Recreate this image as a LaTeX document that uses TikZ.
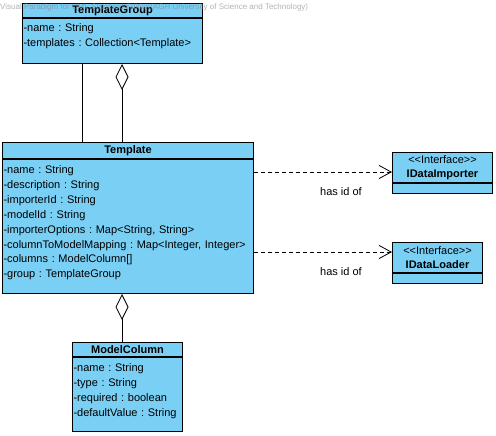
\documentclass[tikz,border=0pt]{standalone}
\usepackage{fontspec}
\setmainfont{Liberation Sans}
\frenchspacing
\definecolor{umlblue}{HTML}{7ACFF5}
\usetikzlibrary{positioning, arrows.meta}

\begin{document}
\begin{tikzpicture}[x=1pt, y=-1pt,
  chead/.style={draw, fill=umlblue, line width=1pt, anchor=north west, inner sep=0pt,
                font=\fontsize{11}{14}\selectfont\bfseries, align=center},
  cbody/.style={draw, fill=umlblue, line width=1pt, anchor=north west,
                inner xsep=1pt, inner ysep=0pt, align=left,
                font=\fontsize{11}{15}\selectfont, text height=13.5pt},
  link/.style={line width=0.8pt},
  aggr/.style={link, {Diamond[open, length=26pt, width=13pt]}-},
  dep/.style={link, dash pattern=on 4pt off 3pt, -{Straight Barb[length=12pt, width=13pt]}},
  lbl/.style={font=\fontsize{11}{13}\selectfont},
  wmark/.style={font=\fontsize{8}{9}\selectfont, text=gray, text opacity=0.6, inner sep=0pt},
]
\useasboundingbox (0,0) rectangle (496,436);

% classes
\node[chead, minimum width=180pt, minimum height=14pt] (tgh) at (22,3) {TemplateGroup};
\node[cbody, minimum width=180pt, text width=178pt, text depth=31.5pt] (tgb) at (tgh.south west)
  {-name : String\\-templates : Collection<Template>};

\node[chead, minimum width=251pt, minimum height=16pt] (tplh) at (2,142) {Template};
\node[cbody, minimum width=251pt, text width=249pt, text depth=120.5pt] (tplb) at (tplh.south west)
  {-name : String\\-description : String\\-importerId : String\\-modelId : String\\
   -importerOptions : Map<String, String>\\-columnToModelMapping : Map<Integer, Integer>\\
   -columns : ModelColumn[]\\-group : TemplateGroup};

\node[chead, minimum width=110pt, minimum height=14pt] (mch) at (72,342) {ModelColumn};
\node[cbody, minimum width=110pt, text width=108pt, text depth=60.5pt] (mcb) at (mch.south west)
  {-name : String\\-type : String\\-required : boolean\\-defaultValue : String};

% interfaces
\node[chead, minimum width=100pt, minimum height=30pt] (imph) at (392,152)
  {{\mdseries <{}<Interface>{}>}\\IDataImporter};
\node[cbody, minimum width=100pt, text width=98pt, text height=0pt, text depth=10pt] (impb) at (imph.south west) {};

\node[chead, minimum width=90pt, minimum height=30pt] (ldrh) at (392,242)
  {{\mdseries <{}<Interface>{}>}\\IDataLoader};
\node[cbody, minimum width=90pt, text width=88pt, text height=0pt, text depth=10pt] (ldrb) at (ldrh.south west) {};

% connectors
\coordinate (asx) at (82,0);
\coordinate (agx) at (122,0);
\coordinate (impin) at (392,172);
\coordinate (ldrin) at (392,252);
\draw[link] (tgb.south -| asx) -- (tplh.north -| asx);
\draw[aggr] (tgb.south -| agx) -- (tplh.north -| agx);
\draw[aggr] (tplb.south -| agx) -- (mch.north -| agx);
\draw[dep] (tplb.east |- impin) -- node[lbl, pos=0.63, yshift=-20pt] (l1) {has id of} (impin);
\draw[dep] (tplb.east |- ldrin) -- node[lbl, pos=0.63, yshift=-20pt] (l2) {has id of} (ldrin);

\node[wmark, anchor=west] (wm) at (0,7)
  {Visual Paradigm for UML Standard Edition(AGH University of Science and Technology)};
\end{tikzpicture}
\end{document}
